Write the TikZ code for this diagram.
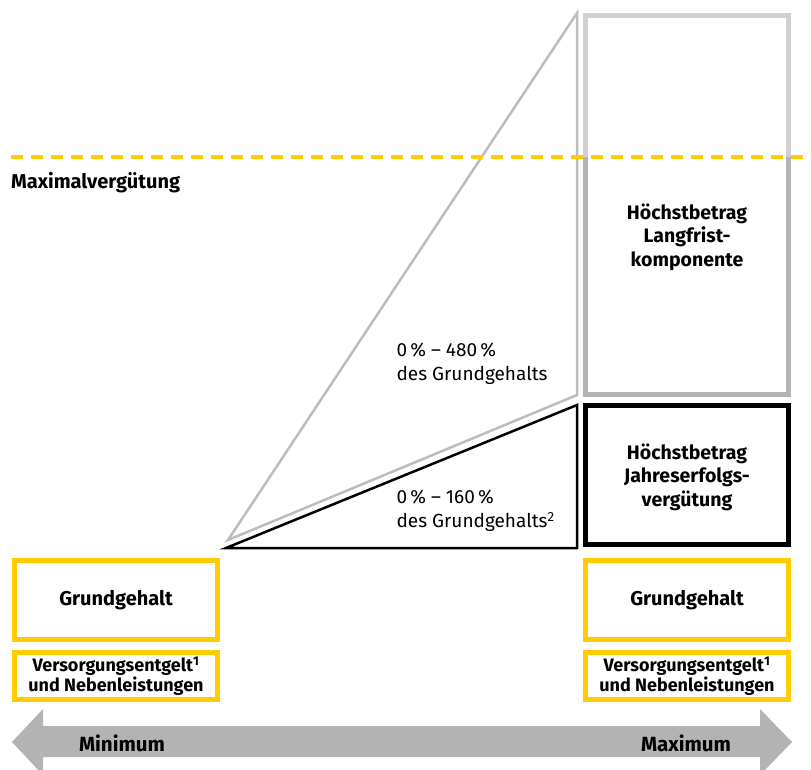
\documentclass[tikz,border=0pt]{standalone}
\usepackage{fontspec}
\setmainfont{Fira Sans}
\definecolor{dpyellow}{HTML}{FFCC00}
\definecolor{grayA}{HTML}{B4B4B4}
\definecolor{grayB}{HTML}{D0D0D0}
\definecolor{grayT}{HTML}{BDBDBD}
\definecolor{arrowgray}{HTML}{B3B3B3}
\begin{document}
\begin{tikzpicture}[x=1pt,y=-1pt,
  ybox/.style={draw=dpyellow,line width=5pt,minimum width=203pt,inner sep=0pt,align=center,font=\bfseries\fontsize{20}{23}\selectfont},
  ysmall/.style={ybox,minimum height=47pt,font=\bfseries\fontsize{18}{19.5}\selectfont},
  bigtext/.style={align=center,font=\bfseries\fontsize{19.5}{23.5}\selectfont},
  pcttext/.style={align=left,anchor=west,font=\fontsize{19}{24}\selectfont},
  axislabel/.style={font=\bfseries\fontsize{20.5}{22}\selectfont}]
\useasboundingbox (0,0) rectangle (811,769);
\clip (0,0) rectangle (811,769);
% bottom arrow
\fill[arrowgray] (12,742) -- (43,709) -- (43,726) -- (760,726) -- (760,709) -- (792,742) -- (760,775) -- (760,757) -- (43,757) -- (43,775) -- cycle;
\node[axislabel] (min) at (122,743) {Minimum};
\node[axislabel] (max) at (686,743) {Maximum};
% left column
\node[ybox,minimum height=79pt] (gl) at (116,600) {Grundgehalt};
\node[ysmall] (vl) at (116,676) {Versorgungsentgelt\textsuperscript{1}\\und Nebenleistungen};
% right column
\node[ybox,minimum height=79pt] (gr) at (687,600) {Grundgehalt};
\node[ysmall] (vr) at (687,676) {Versorgungsentgelt\textsuperscript{1}\\und Nebenleistungen};
% black box
\node[draw=black,line width=5pt,minimum width=203pt,minimum height=139pt,inner sep=0pt] (jb) at (687,475) {};
\node[bigtext] (jt) at (687,477) {Höchstbetrag\\Jahreserfolgs-\\vergütung};
% gray box
\node[draw=grayA,line width=5pt,minimum width=203pt,minimum height=379pt,inner sep=0pt] (lb) at (687,205) {};
\draw[grayB,line width=5pt] (585.5,157) -- (585.5,15.5) -- (788.5,15.5) -- (788.5,157);
\node[bigtext] (lt) at (687,237) {Höchstbetrag\\Langfrist-\\komponente};
% triangles
\coordinate (gv) at (228,540);
\coordinate (gt) at (577,13);
\coordinate (gbt) at (577,395);
\draw[grayT,line width=2.5pt,line join=miter] (gv) -- (gt) -- (gbt) -- cycle;
\coordinate (bv) at (226,548);
\coordinate (bt) at (577,405);
\coordinate (bb) at (577,548);
\draw[black,line width=2.5pt] (bv) -- (bt) -- (bb) -- cycle;
\node[pcttext] (p480) at (393,364) {0\,\% – 480\,\%\\des Grundgehalts};
\node[pcttext] (p160) at (393,511) {0\,\% – 160\,\%\\des Grundgehalts\textsuperscript{2}};
% dashed line
\coordinate (dl) at (11,157);
\coordinate (dr) at (811,157);
\draw[dpyellow,line width=4pt,dash pattern=on 12pt off 8pt] (dl) -- (dr);
\node[anchor=west,font=\bfseries\fontsize{20}{22}\selectfont,inner sep=0pt] (maxv) at (11,183) {Maximalvergütung};
\end{tikzpicture}
\end{document}
